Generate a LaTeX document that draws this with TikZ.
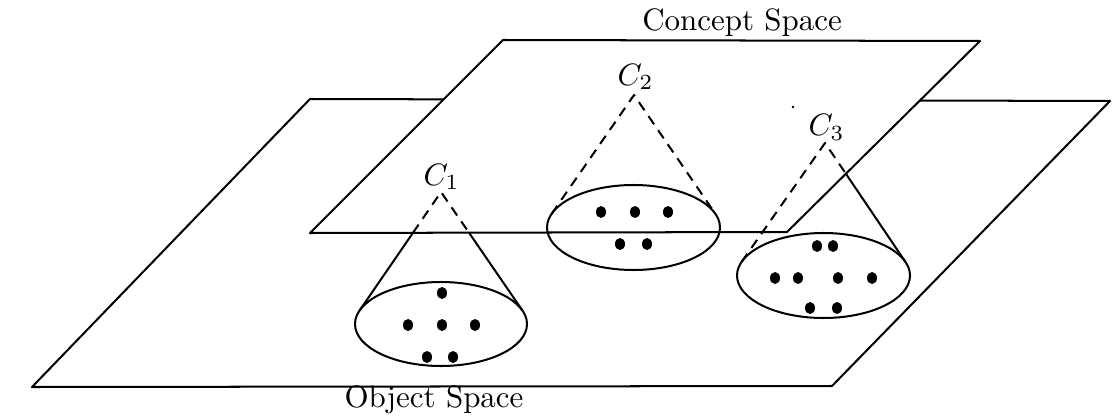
\documentclass[tikz,border=0pt]{standalone}
\begin{document}
\begin{tikzpicture}[x=0.323pt,y=-0.323pt,
  edge/.style={line width=0.65pt, line join=round},
  hid/.style={edge, dash pattern=on 3.2pt off 2.3pt},
  dot/.style={fill=black},
  lab/.style={inner sep=0pt, font=\normalsize}]
\useasboundingbox (0,0) rectangle (1112,419);
% ---- object plane
\coordinate (o1) at (32,387);
\coordinate (o2) at (832,386);
\coordinate (o3) at (1110,101);
\coordinate (o4) at (310,99);
\draw[edge] (o1) -- (o2) -- (o3) -- (o4) -- cycle;
% ---- concept plane
\coordinate (p1) at (310,233);
\coordinate (p2) at (787,232);
\coordinate (p3) at (980,41);
\coordinate (p4) at (503,40);
\filldraw[edge, fill=white] (p1) -- (p2) -- (p3) -- (p4) -- cycle;
% ---- cone geometry
\coordinate (e1) at (441,324);
\coordinate (a1) at (441,192);
\coordinate (t1l) at (359.5,310.6);
\coordinate (t1r) at (522.5,310.6);
\coordinate (e2) at (633.5,227.5);
\coordinate (a2) at (634,95);
\coordinate (t2l) at (551.6,213.9);
\coordinate (t2r) at (715.4,213.9);
\coordinate (e3) at (823.5,275.5);
\coordinate (a3) at (825,143);
\coordinate (t3l) at (741.6,261.9);
\coordinate (t3r) at (905.4,261.9);
\coordinate (s1l) at (intersection of a1--t1l and p1--p2);
\coordinate (s1r) at (intersection of a1--t1r and p1--p2);
\coordinate (s3r) at (intersection of a3--t3r and p2--p3);
% ---- cone sides
\draw[hid] (s1l) -- (a1) -- (s1r);
\draw[edge] (s1l) -- (t1l);
\draw[edge] (s1r) -- (t1r);
\draw[hid] (t2l) -- (a2) -- (t2r);
\draw[hid] (t3l) -- (a3) -- (s3r);
\draw[edge] (s3r) -- (t3r);
% ---- bases
\draw[edge] (e1) ellipse [x radius=86, y radius=42];
\draw[edge] (e2) ellipse [x radius=86.5, y radius=42.5];
\draw[edge] (e3) ellipse [x radius=86.5, y radius=42.5];
% ---- objects
\foreach \p in {(442,293),(408,325),(442,325),(475,325),(427,357),(453,357),
                (601,212),(635,212),(668,212),(620,244),(647,244),
                (817,246),(833,246),(775,278),(798,278),(838,278),(872,278),(810,308),(837,308)}
  \fill \p ellipse [x radius=5, y radius=6];
\fill (793,107) circle [radius=1.3];
% ---- labels
\node[lab] (c1) at (441.5,177) {$C_1$};
\node[lab] (c2) at (635.5,77) {$C_2$};
\node[lab] (c3) at (826.5,127.5) {$C_3$};
\node[lab, anchor=base] (cs) at (742,31) {Concept Space};
\node[lab, anchor=base] (os) at (434,407) {Object Space};
\end{tikzpicture}
\end{document}
